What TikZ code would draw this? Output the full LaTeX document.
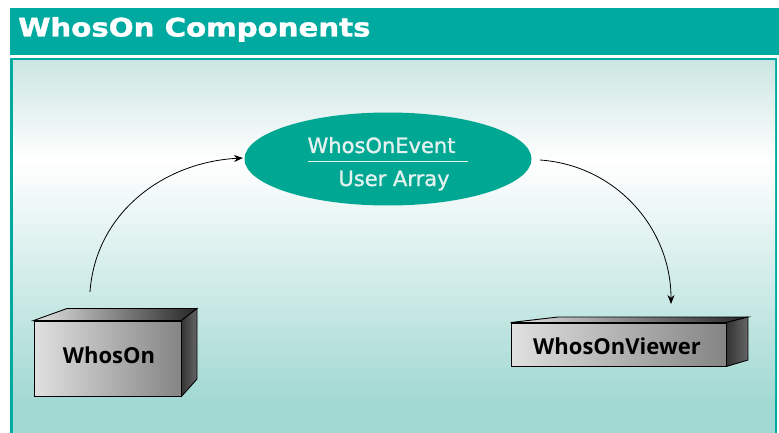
\documentclass[tikz,border=0pt]{standalone}
\usepackage{fontspec}
\usetikzlibrary{shapes.geometric,arrows.meta}
\newfontfamily\dvfont[FakeBold=1.2]{DejaVu Sans}
\newfontfamily\dvtitle[FakeBold=1.5]{DejaVu Sans Bold}
\newfontfamily\osfont{Open Sans}
\definecolor{barteal}{HTML}{00AAA0}
\definecolor{elteal}{HTML}{00A894}
\definecolor{bgtop}{HTML}{CCE6E2}
\definecolor{bgbot}{HTML}{A3D9D3}
\definecolor{eltext}{HTML}{E4F2EF}
\tikzset{
  facefront/.style={draw=black, line width=0.9pt, left color=black!12, right color=black!48},
  facetop/.style={draw=black, line width=0.9pt, left color=black!10, right color=black!85},
  faceside/.style={draw=black, line width=0.9pt, left color=black!80, right color=black!60},
  boxlabel/.style={font=\osfont\bfseries\fontsize{22}{22}\selectfont, text=black, inner sep=0pt, anchor=base},
  eltxt/.style={inner sep=0pt, anchor=base, text=eltext, font=\dvfont\fontsize{21}{21}\selectfont},
  conn/.style={line width=0.8pt, -{Stealth[length=9pt,width=7pt]}},
}
\begin{document}
\begin{tikzpicture}[x=1pt,y=-1pt]
\useasboundingbox (0,0) rectangle (779,433);
% title bar
\fill[barteal] (10,8) rectangle (779,55);
\node[inner sep=0pt, anchor=base west, text=white] (title) at (18,36.5)
  {\scalebox{1.17}[1.02]{\dvtitle\fontsize{25}{25}\selectfont WhosOn Components}};
% content background
\fill[barteal] (10,58) rectangle (777,433);
\shade[top color=bgtop, bottom color=white] (13,61) rectangle (775,160);
\shade[top color=white, bottom color=bgbot] (13,160) rectangle (775,400);
\fill[bgbot] (13,399.5) rectangle (775,433);
% ellipse
\node[ellipse, fill=elteal, minimum width=287pt, minimum height=93pt, inner sep=0pt] (ev) at (388,159) {};
\node[eltxt] (evt) at (381.5,153) {WhosOnEvent};
\node[eltxt] (arr) at (394,186) {User Array};
\coordinate (ul1) at (308,161.5);
\coordinate (ul2) at (468,161.5);
\draw[eltext, line width=0.8pt] (ul1) -- (ul2);
% WhosOn box
\node[facefront, minimum width=147pt, minimum height=75pt, inner sep=0pt] (wo) at (107.5,358.5) {};
\coordinate (woTB) at (67,308.5);
\coordinate (woTR) at (197,308.5);
\coordinate (woBR) at (197,379);
\draw[facetop] (wo.north west) -- (woTB) -- (woTR) -- (wo.north east) -- cycle;
\draw[faceside] (wo.north east) -- (woTR) -- (woBR) -- (wo.south east) -- cycle;
\node[boxlabel] (wotext) at (109,363) {WhosOn};
% WhosOnViewer box
\node[facefront, minimum width=215pt, minimum height=43pt, inner sep=0pt] (wv) at (618.5,344.5) {};
\coordinate (wvTB) at (558,317);
\coordinate (wvTR) at (748,317);
\coordinate (wvBR) at (748,360);
\draw[facetop] (wv.north west) -- (wvTB) -- (wvTR) -- (wv.north east) -- cycle;
\draw[faceside] (wv.north east) -- (wvTR) -- (wvBR) -- (wv.south east) -- cycle;
\node[boxlabel] (wvtext) at (617,354) {WhosOnViewer};
% connectors
\coordinate (s1) at (90,292);
\coordinate (e1) at (243,158);
\draw[conn] (s1) to[out=86, in=183] (e1);
\coordinate (s2) at (540,160);
\coordinate (e2) at (671,304);
\draw[conn] (s2) to[out=-4, in=90] (e2);
\end{tikzpicture}
\end{document}
